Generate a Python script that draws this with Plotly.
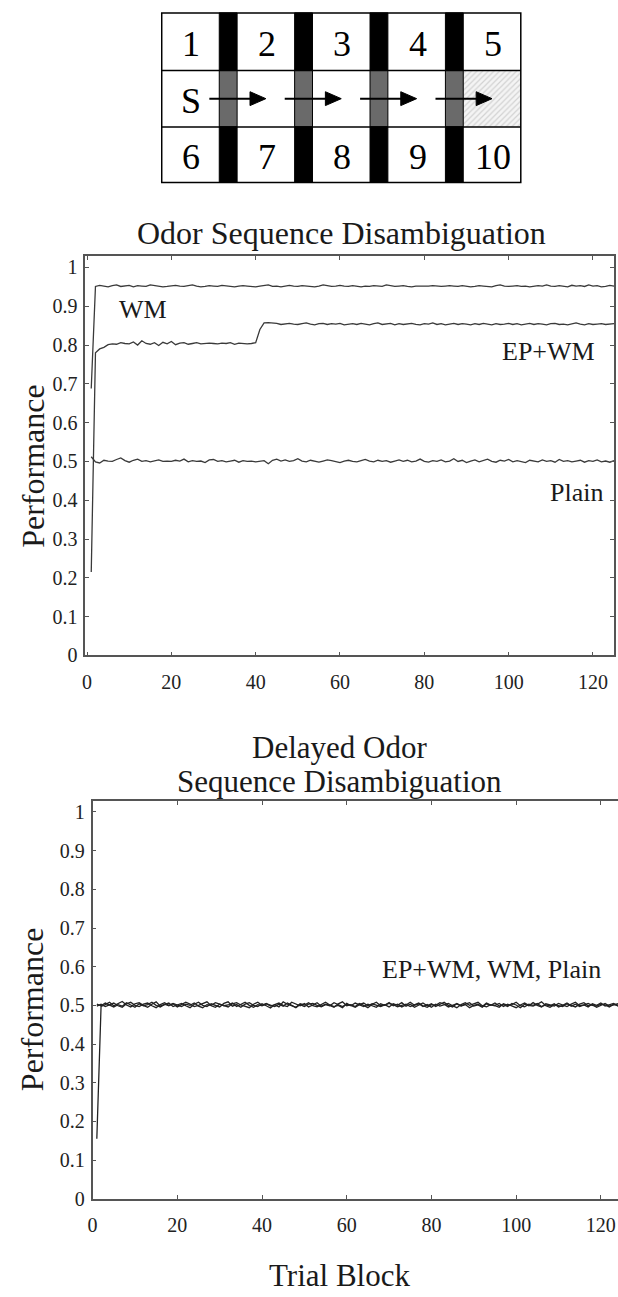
import plotly.graph_objects as go

W, H = 618, 1297
FONT = "Liberation Serif"

# ---------------- data ----------------
trial_block = list(range(1, 126))
x_ticks = [0, 20, 40, 60, 80, 100, 120]
y_ticks = [0, 0.1, 0.2, 0.3, 0.4, 0.5, 0.6, 0.7, 0.8, 0.9, 1.0]
y_tick_labels = ["0", "0.1", "0.2", "0.3", "0.4", "0.5", "0.6", "0.7", "0.8", "0.9", "1"]

wm_odor = [
    0.688, 0.951, 0.954, 0.952, 0.950, 0.953, 0.955, 0.951, 0.952, 0.954,
    0.950, 0.953, 0.952, 0.951, 0.955, 0.953, 0.952, 0.950, 0.951, 0.953,
    0.954, 0.952, 0.951, 0.953, 0.955, 0.952, 0.950, 0.951, 0.953, 0.952,
    0.951, 0.954, 0.953, 0.951, 0.950, 0.952, 0.953, 0.952, 0.951, 0.950,
    0.952, 0.953, 0.955, 0.951, 0.952, 0.950, 0.953, 0.954, 0.952, 0.951,
    0.953, 0.952, 0.951, 0.950, 0.952, 0.955, 0.953, 0.951, 0.952, 0.954,
    0.952, 0.951, 0.953, 0.952, 0.950, 0.952, 0.951, 0.953, 0.952, 0.951,
    0.955, 0.953, 0.951, 0.952, 0.953, 0.951, 0.950, 0.952, 0.952, 0.951,
    0.952, 0.953, 0.952, 0.951, 0.952, 0.953, 0.952, 0.951, 0.953, 0.952,
    0.950, 0.951, 0.953, 0.952, 0.951, 0.950, 0.953, 0.955, 0.952, 0.951,
    0.952, 0.953, 0.951, 0.952, 0.950, 0.951, 0.953, 0.952, 0.955, 0.952,
    0.951, 0.953, 0.952, 0.950, 0.954, 0.952, 0.953, 0.951, 0.955, 0.952,
    0.953, 0.950, 0.951, 0.954, 0.952,
]

epwm_odor = [
    0.215, 0.780, 0.790, 0.794, 0.801, 0.803, 0.802, 0.806, 0.804, 0.803,
    0.808, 0.800, 0.811, 0.804, 0.802, 0.806, 0.799, 0.807, 0.803, 0.809,
    0.801, 0.805, 0.806, 0.802, 0.804, 0.806, 0.803, 0.804, 0.805, 0.804,
    0.803, 0.805, 0.804, 0.806, 0.802, 0.805, 0.804, 0.803, 0.804, 0.806,
    0.840, 0.857, 0.858, 0.857, 0.856, 0.853, 0.855, 0.856, 0.854, 0.853,
    0.855, 0.857, 0.854, 0.852, 0.855, 0.856, 0.853, 0.855, 0.854, 0.856,
    0.852, 0.854, 0.855, 0.853, 0.856, 0.854, 0.852, 0.855, 0.857, 0.853,
    0.854, 0.856, 0.852, 0.855, 0.853, 0.854, 0.856, 0.853, 0.852, 0.855,
    0.854, 0.857, 0.853, 0.855, 0.852, 0.854, 0.856, 0.853, 0.855, 0.854,
    0.852, 0.855, 0.853, 0.856, 0.854, 0.852, 0.855, 0.853, 0.854, 0.856,
    0.853, 0.855, 0.852, 0.854, 0.856, 0.853, 0.855, 0.854, 0.852, 0.855,
    0.856, 0.853, 0.854, 0.852, 0.855, 0.857, 0.854, 0.852, 0.855, 0.853,
    0.854, 0.855, 0.853, 0.854, 0.855,
]

plain_odor = [
    0.512, 0.499, 0.496, 0.503, 0.501, 0.500, 0.505, 0.509, 0.502, 0.498,
    0.503, 0.506, 0.500, 0.502, 0.499, 0.501, 0.504, 0.500, 0.501, 0.500,
    0.503, 0.501, 0.506, 0.499, 0.502, 0.500, 0.501, 0.497, 0.504, 0.505,
    0.500, 0.502, 0.499, 0.501, 0.503, 0.498, 0.502, 0.500, 0.501, 0.499,
    0.500, 0.502, 0.494, 0.503, 0.506, 0.501, 0.504, 0.500, 0.502, 0.507,
    0.501, 0.499, 0.503, 0.500, 0.498, 0.501, 0.504, 0.502, 0.500, 0.497,
    0.501, 0.503, 0.500, 0.499, 0.502, 0.505, 0.501, 0.499, 0.503, 0.500,
    0.502, 0.498, 0.501, 0.504, 0.500, 0.503, 0.499, 0.501, 0.506, 0.500,
    0.498, 0.502, 0.500, 0.504, 0.499, 0.501, 0.507, 0.500, 0.503, 0.497,
    0.501, 0.504, 0.499, 0.502, 0.506, 0.500, 0.498, 0.503, 0.501, 0.505,
    0.499, 0.502, 0.500, 0.497, 0.503, 0.501, 0.499, 0.504, 0.500, 0.502,
    0.498, 0.505, 0.500, 0.502, 0.499, 0.501, 0.503, 0.498, 0.502, 0.500,
    0.504, 0.499, 0.501, 0.498, 0.502,
]

epwm_delayed = [
    0.155, 0.497, 0.502, 0.508, 0.499, 0.505, 0.510, 0.501, 0.496, 0.504,
    0.507, 0.500, 0.495, 0.503, 0.509, 0.498, 0.502, 0.506, 0.497, 0.501,
    0.505, 0.499, 0.494, 0.503, 0.508, 0.500, 0.497, 0.504, 0.501, 0.496,
    0.505, 0.509, 0.498, 0.502, 0.495, 0.503, 0.507, 0.500, 0.497, 0.504,
    0.499, 0.493, 0.502, 0.506, 0.500, 0.497, 0.508, 0.503, 0.499, 0.505,
    0.496, 0.501, 0.507, 0.498, 0.503, 0.500, 0.495, 0.504, 0.509, 0.499,
    0.502, 0.497, 0.505, 0.500, 0.494, 0.503, 0.508, 0.499, 0.502, 0.496,
    0.504, 0.500, 0.507, 0.498, 0.503, 0.495, 0.501, 0.506, 0.499, 0.504,
    0.497, 0.502, 0.508, 0.500, 0.496, 0.505, 0.499, 0.503, 0.507, 0.498,
    0.501, 0.495, 0.504, 0.500, 0.506, 0.498, 0.502, 0.497, 0.505, 0.501,
    0.494, 0.503, 0.499, 0.507, 0.500, 0.496, 0.504, 0.501, 0.498, 0.505,
    0.502, 0.497, 0.503, 0.508, 0.499, 0.501, 0.496, 0.504, 0.500, 0.506,
    0.498, 0.502, 0.505, 0.499, 0.503,
]

wm_delayed = [
    0.498, 0.503, 0.497, 0.501, 0.506, 0.499, 0.495, 0.504, 0.508, 0.500,
    0.497, 0.503, 0.506, 0.499, 0.494, 0.502, 0.507, 0.500, 0.504, 0.496,
    0.501, 0.508, 0.503, 0.497, 0.500, 0.505, 0.509, 0.499, 0.495, 0.503,
    0.500, 0.496, 0.504, 0.507, 0.501, 0.498, 0.494, 0.503, 0.508, 0.500,
    0.505, 0.498, 0.502, 0.496, 0.509, 0.503, 0.499, 0.495, 0.504, 0.501,
    0.507, 0.499, 0.496, 0.503, 0.508, 0.501, 0.497, 0.500, 0.494, 0.505,
    0.499, 0.506, 0.501, 0.497, 0.503, 0.498, 0.495, 0.504, 0.500, 0.507,
    0.499, 0.503, 0.496, 0.501, 0.508, 0.500, 0.504, 0.497, 0.502, 0.495,
    0.503, 0.498, 0.501, 0.505, 0.499, 0.494, 0.502, 0.507, 0.500, 0.503,
    0.508, 0.499, 0.496, 0.502, 0.500, 0.505, 0.497, 0.503, 0.498, 0.494,
    0.501, 0.506, 0.500, 0.498, 0.503, 0.509, 0.499, 0.495, 0.502, 0.500,
    0.497, 0.504, 0.501, 0.496, 0.503, 0.507, 0.499, 0.502, 0.495, 0.501,
    0.505, 0.498, 0.500, 0.504, 0.497,
]

plain_delayed = [
    0.503, 0.499, 0.506, 0.500, 0.496, 0.502, 0.498, 0.507, 0.501, 0.495,
    0.504, 0.499, 0.502, 0.508, 0.500, 0.496, 0.503, 0.499, 0.505, 0.501,
    0.497, 0.503, 0.500, 0.506, 0.498, 0.494, 0.502, 0.500, 0.507, 0.503,
    0.499, 0.501, 0.506, 0.497, 0.503, 0.508, 0.500, 0.495, 0.502, 0.499,
    0.504, 0.501, 0.497, 0.503, 0.498, 0.506, 0.500, 0.494, 0.502, 0.497,
    0.503, 0.505, 0.500, 0.496, 0.502, 0.499, 0.507, 0.501, 0.497, 0.503,
    0.500, 0.495, 0.502, 0.506, 0.499, 0.504, 0.500, 0.497, 0.501, 0.505,
    0.502, 0.496, 0.500, 0.503, 0.497, 0.501, 0.506, 0.499, 0.495, 0.502,
    0.500, 0.507, 0.503, 0.496, 0.501, 0.504, 0.498, 0.502, 0.494, 0.500,
    0.503, 0.497, 0.506, 0.501, 0.499, 0.495, 0.504, 0.500, 0.502, 0.508,
    0.499, 0.496, 0.503, 0.500, 0.505, 0.497, 0.501, 0.499, 0.504, 0.496,
    0.500, 0.506, 0.498, 0.503, 0.497, 0.501, 0.505, 0.500, 0.498, 0.503,
    0.501, 0.496, 0.503, 0.499, 0.501,
]

maze_top_labels = ["1", "2", "3", "4", "5"]
maze_mid_labels = ["S", "", "", "", ""]
maze_bottom_labels = ["6", "7", "8", "9", "10"]

# ---------------- helpers ----------------
def px(x):
    return x / W

def py(y):
    return 1 - y / H

fig = go.Figure()

line_top = dict(color="#3a3a3a", width=1.3)
line_bot = dict(color="#222222", width=1.3)

fig.add_trace(go.Scatter(x=trial_block, y=wm_odor, mode="lines", line=line_top, xaxis="x", yaxis="y"))
fig.add_trace(go.Scatter(x=trial_block, y=epwm_odor, mode="lines", line=line_top, xaxis="x", yaxis="y"))
fig.add_trace(go.Scatter(x=trial_block, y=plain_odor, mode="lines", line=line_top, xaxis="x", yaxis="y"))

fig.add_trace(go.Scatter(x=trial_block, y=epwm_delayed, mode="lines", line=line_bot, xaxis="x2", yaxis="y2"))
fig.add_trace(go.Scatter(x=trial_block, y=wm_delayed, mode="lines", line=line_bot, xaxis="x2", yaxis="y2"))
fig.add_trace(go.Scatter(x=trial_block, y=plain_delayed, mode="lines", line=line_bot, xaxis="x2", yaxis="y2"))

# ---------------- maze diagram (pixel coordinates on a hidden axis pair) ----------------
maze_left, maze_top, maze_bottom = 158, 13, 184
row_lines = [71, 128]
cell_w, bar_w = 58, 18
row_bounds = [(maze_top, row_lines[0]), (row_lines[0], row_lines[1]), (row_lines[1], maze_bottom)]

cells = []
bars = []
xpos = maze_left
for i in range(5):
    cells.append((xpos, xpos + cell_w))
    xpos += cell_w
    if i < 4:
        bars.append((xpos, xpos + bar_w))
        xpos += bar_w
maze_right = xpos

D_TOP, D_BOT = 0, 200

shapes = []
edge = dict(color="black", width=1.5)
hx0, hx1 = cells[4]
hy0, hy1 = row_bounds[1]
fig.add_trace(go.Scatter(
    x=[hx0, hx1, hx1, hx0, hx0], y=[hy0, hy0, hy1, hy1, hy0],
    mode="lines", fill="toself", line=dict(width=0, color="rgba(0,0,0,0)"),
    fillcolor="white",
    fillpattern=dict(shape="/", fgcolor="#b0b0b0", bgcolor="#f4f4f4", size=4, solidity=0.3),
    xaxis="x3", yaxis="y3"))

for bx0, bx1 in bars:
    for r, (ry0, ry1) in enumerate(row_bounds):
        shapes.append(dict(type="rect", xref="x3", yref="y3", x0=bx0, x1=bx1, y0=ry0, y1=ry1,
                           fillcolor="black" if r != 1 else "#6a6a6a",
                           line=dict(color="black", width=1)))
for ry in row_lines:
    shapes.append(dict(type="line", xref="x3", yref="y3", x0=maze_left, x1=maze_right, y0=ry, y1=ry, line=edge))
shapes.append(dict(type="rect", xref="x3", yref="y3", x0=maze_left, x1=maze_right,
                   y0=maze_top, y1=maze_bottom, line=edge))

arrow_y = (row_lines[0] + row_lines[1]) / 2
for i, (bx0, bx1) in enumerate(bars):
    x_start = bx0 - 10
    x_tip = (cells[i + 1][0] + cells[i + 1][1]) / 2
    shapes.append(dict(type="line", xref="x3", yref="y3", x0=x_start, x1=x_tip - 10,
                       y0=arrow_y, y1=arrow_y, line=dict(color="black", width=2)))
    shapes.append(dict(type="path", xref="x3", yref="y3",
                       path=f"M {x_tip-16} {arrow_y-7} L {x_tip} {arrow_y} L {x_tip-16} {arrow_y+7} Z",
                       fillcolor="black", line=dict(color="black", width=1)))

annotations = []
for labels, (ry0, ry1) in zip([maze_top_labels, maze_mid_labels, maze_bottom_labels], row_bounds):
    for lab, (cx0, cx1) in zip(labels, cells):
        if lab:
            annotations.append(dict(text=lab, xref="x3", yref="y3", x=(cx0 + cx1) / 2 + 1,
                                    y=(ry0 + ry1) / 2 + 2, showarrow=False,
                                    font=dict(family=FONT, size=36, color="black"),
                                    xanchor="center", yanchor="middle"))

# ---------------- text annotations (paper coordinates) ----------------
def txt(text, x, y, size, angle=0, yanchor="middle"):
    annotations.append(dict(text=text, xref="paper", yref="paper", x=px(x), y=py(y),
                            showarrow=False, textangle=angle,
                            font=dict(family=FONT, size=size, color="#1a1a1a"),
                            xanchor="center", yanchor=yanchor))

txt("Odor Sequence Disambiguation", 339, 235, 32)
txt("WM", 139, 312, 26)
txt("EP+WM", 548, 355, 26)
txt("Plain", 576, 497, 26)
txt("Performance", 28, 470, 32, -90)
txt("Delayed Odor", 337, 754, 31)
txt("Sequence Disambiguation", 337, 788, 31)
txt("EP+WM, WM, Plain", 490, 978, 26)
txt("Performance", 28, 1018, 32, -90)
txt("Trial Block", 337, 1306, 31, yanchor="bottom")

axis_common = dict(showline=True, linecolor="#555555", linewidth=1.5, ticks="inside", ticklen=4,
                   tickcolor="#555555", tickwidth=1, showgrid=False, zeroline=False,
                   tickfont=dict(family=FONT, size=20, color="#222222"))

fig.update_layout(
    width=W, height=H, margin=dict(l=0, r=0, t=0, b=0),
    paper_bgcolor="white", plot_bgcolor="rgba(0,0,0,0)", showlegend=False,
    xaxis=dict(domain=[px(81), px(614)], range=[-0.4, 125], tickvals=x_ticks, mirror="ticks",
               anchor="y", ticklabelstandoff=8, **axis_common),
    yaxis=dict(domain=[py(661), py(258)], range=[0, 1.03], tickvals=y_ticks, ticktext=y_tick_labels,
               mirror="ticks", anchor="x", ticklabelstandoff=2, **axis_common),
    xaxis2=dict(domain=[px(88.3), 1.0], range=[0, 124.05], tickvals=x_ticks, mirror="ticks",
                anchor="y2", ticklabelstandoff=8, **axis_common),
    yaxis2=dict(domain=[py(1209), py(808)], range=[0, 1.028], tickvals=y_ticks, ticktext=y_tick_labels,
                mirror=False, anchor="x2", ticklabelstandoff=2, **axis_common),
    xaxis3=dict(domain=[0, 1], range=[0, W], visible=False, fixedrange=True, anchor="y3"),
    yaxis3=dict(domain=[py(D_BOT), py(D_TOP)], range=[D_BOT, D_TOP], visible=False, fixedrange=True, anchor="x3"),
    shapes=shapes,
    annotations=annotations,
)

fig.write_html(
    "out.html",
    config={"responsive": False, "displayModeBar": False},
    post_script="document.body.style.margin='0';document.body.style.overflow='hidden';",
)
